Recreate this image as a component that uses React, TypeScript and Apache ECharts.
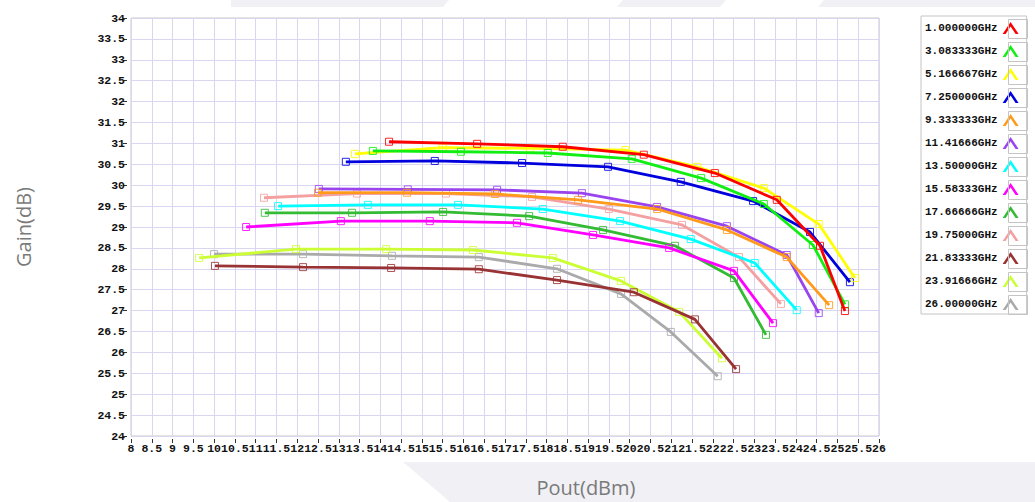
import React, { useEffect, useRef } from "react";
import * as echarts from "echarts";

const seriesNames = [
  "1.000000GHz", "3.083333GHz", "5.166667GHz", "7.250000GHz", "9.333333GHz",
  "11.41666GHz", "13.50000GHz", "15.58333GHz", "17.66666GHz", "19.75000GHz",
  "21.83333GHz", "23.91666GHz", "26.00000GHz",
];

const seriesColors = [
  "#ff0000", "#11ee11", "#ffff00", "#0000dd", "#ff9a1a",
  "#9944ee", "#00ffff", "#ff00ff", "#33bb33", "#f4a0a0",
  "#993333", "#ccff33", "#aaaaaa",
];

// [Pout(dBm), Gain(dB)]
const f1000 = [[14.21, 31.04], [16.33, 30.99], [18.39, 30.92], [20.34, 30.73], [22.05, 30.29], [23.54, 29.65], [24.58, 28.55], [25.18, 26.99]];
const f3083 = [[13.82, 30.82], [15.94, 30.8], [18.03, 30.77], [20.05, 30.63], [21.72, 30.17], [23.23, 29.55], [24.41, 28.57], [25.18, 27.15]];
const f5167 = [[13.39, 30.75], [15.5, 30.9], [17.6, 30.88], [19.9, 30.84], [21.62, 30.44], [23.23, 29.93], [24.55, 29.07], [25.42, 27.78]];
const f7250 = [[13.17, 30.56], [15.31, 30.58], [17.41, 30.53], [19.48, 30.44], [21.23, 30.08], [22.97, 29.62], [24.34, 28.88], [25.3, 27.68]];
const f9333 = [[12.5, 29.82], [14.64, 29.82], [16.76, 29.79], [18.76, 29.65], [20.66, 29.43], [22.34, 28.93], [23.78, 28.28], [24.8, 27.13]];
const f11417 = [[12.52, 29.91], [14.66, 29.9], [16.81, 29.89], [18.85, 29.81], [20.66, 29.48], [22.34, 29.02], [23.78, 28.33], [24.55, 26.94]];
const f13500 = [[11.54, 29.5], [13.7, 29.53], [15.87, 29.53], [17.91, 29.43], [19.77, 29.14], [21.47, 28.71], [23.01, 28.14], [24.02, 27.01]];
const f15583 = [[10.77, 29.0], [13.05, 29.14], [15.19, 29.14], [17.29, 29.1], [19.12, 28.81], [20.95, 28.5], [22.51, 27.95], [23.45, 26.7]];
const f17667 = [[11.22, 29.34], [13.32, 29.34], [15.51, 29.36], [17.58, 29.26], [19.36, 28.93], [21.09, 28.55], [22.51, 27.78], [23.28, 26.42]];
const f19750 = [[11.2, 29.7], [13.44, 29.8], [15.58, 29.8], [17.65, 29.72], [19.5, 29.43], [21.26, 29.05], [22.63, 28.28], [23.64, 27.16]];
const f21833 = [[10.02, 28.07], [12.14, 28.04], [14.26, 28.02], [16.37, 27.99], [18.25, 27.73], [20.1, 27.44], [21.57, 26.79], [22.56, 25.6]];
const f23917 = [[9.64, 28.26], [11.97, 28.47], [14.14, 28.47], [16.23, 28.45], [18.15, 28.26], [19.79, 27.71], [21.19, 26.97], [22.22, 25.86]];
const f26000 = [[10.0, 28.35], [12.14, 28.35], [14.28, 28.31], [16.37, 28.28], [18.25, 28.0], [19.79, 27.4], [20.99, 26.49], [22.12, 25.43]];

const seriesData = [f1000, f3083, f5167, f7250, f9333, f11417, f13500, f15583, f17667, f19750, f21833, f23917, f26000];

const xTicks = { min: 8, max: 26, step: 0.5 };
const yTicks = { min: 24, max: 34, step: 0.5 };

const monoFamily = "'Liberation Mono', 'DejaVu Sans Mono', monospace";

export default function App() {
  const ref = useRef<HTMLDivElement>(null);

  useEffect(() => {
    document.body.style.margin = "0";
    if (!ref.current) return;
    const chart = echarts.init(ref.current, undefined, { renderer: "svg" });

    const legendTop = 16;
    const legendPadTop = 6;
    const rowH = 23;
    const iconH = 12;

    const iconBoxes = seriesNames.map((_, i) => ({
      type: "rect",
      silent: true,
      shape: { x: 1008.5, y: legendTop + 1 + legendPadTop + iconH / 2 - 9.5 + i * rowH, width: 19, height: 19 },
      style: { fill: "none", stroke: "#c4c4c4", lineWidth: 1 },
      z: 10,
    }));

    const option: any = {
      animation: false,
      backgroundColor: "#ffffff",
      grid: {
        left: 131,
        right: 1035 - 879,
        top: 18,
        bottom: 502 - 436,
        show: true,
        borderColor: "#c8c8c8",
        borderWidth: 1,
        backgroundColor: "#ffffff",
      },
      xAxis: {
        type: "value",
        min: xTicks.min,
        max: xTicks.max,
        interval: xTicks.step,
        offset: 3,
        axisLine: { show: false },
        axisTick: { show: true, length: 4, lineStyle: { color: "#333" } },
        axisLabel: {
          margin: 3,
          color: "#111",
          fontFamily: monoFamily,
          fontWeight: "bold",
          fontSize: 11.5,
          hideOverlap: false,
        },
        splitLine: { show: true, lineStyle: { color: "#d9d6f2", width: 1 } },
      },
      yAxis: {
        type: "value",
        min: yTicks.min,
        max: yTicks.max,
        interval: yTicks.step,
        offset: 4,
        name: "Gain(dB)",
        nameLocation: "middle",
        nameGap: 94,
        nameRotate: 90,
        nameTextStyle: {
          fontFamily: "'Open Sans', 'Noto Sans', sans-serif",
          fontSize: 20,
          color: "#7a7a7a",
        },
        axisLine: { show: false },
        axisTick: { show: true, length: 4, lineStyle: { color: "#333" } },
        axisLabel: {
          margin: 2,
          color: "#111",
          fontFamily: monoFamily,
          fontWeight: "bold",
          fontSize: 11.5,
        },
        splitLine: { show: true, lineStyle: { color: "#d9d6f2", width: 1 } },
      },
      legend: {
        orient: "vertical",
        left: 921,
        top: legendTop,
        padding: [legendPadTop, 8, 4, 4],
        backgroundColor: "#ffffff",
        borderColor: "#c4c4c4",
        borderWidth: 1,
        borderRadius: 0,
        align: "right",
        itemWidth: 16,
        itemHeight: iconH,
        itemGap: rowH - iconH,
        icon: "path://M0,12 L8,0 L16,12 L13,12 L8,4.5 L3,12 Z",
        textStyle: {
          width: 80,
          fontFamily: monoFamily,
          fontWeight: "bold",
          fontSize: 11,
          color: "#111",
        },
        data: seriesNames.map((n, i) => ({
          name: n,
          itemStyle: { color: seriesColors[i], borderWidth: 0, opacity: 1 },
        })),
      },
      series: seriesNames.map((n, i) => ({
        name: n,
        type: "line",
        data: seriesData[i],
        z: 30 - i,
        symbol: "rect",
        symbolSize: 7,
        showSymbol: true,
        lineStyle: { color: seriesColors[i], width: 2.8 },
        itemStyle: {
          color: "rgba(255,255,255,0)",
          borderColor: seriesColors[i],
          borderWidth: 1,
          opacity: 0.85,
        },
        emphasis: { disabled: true },
      })),
      graphic: [
        {
          type: "polygon",
          silent: true,
          z: -10,
          shape: { points: [[231, 0], [449, 0], [443, 7], [231, 7]] },
          style: { fill: "#f0f0f5" },
        },
        {
          type: "polygon",
          silent: true,
          z: -10,
          shape: { points: [[623, 0], [726, 0], [720, 7], [617, 7]] },
          style: { fill: "#f0f0f5" },
        },
        {
          type: "polygon",
          silent: true,
          z: -10,
          shape: { points: [[824, 0], [1035, 0], [1035, 7], [818, 7]] },
          style: { fill: "#f0f0f5" },
        },
        {
          type: "polygon",
          silent: true,
          z: -10,
          shape: { points: [[403, 462], [1035, 462], [1035, 502], [450, 502]] },
          style: { fill: "#f0f0f5" },
        },
        {
          type: "text",
          x: 586,
          y: 487,
          silent: true,
          style: {
            text: "Pout(dBm)",
            font: "20px 'Open Sans', 'Noto Sans', sans-serif",
            fill: "#7a7a7a",
            align: "center",
            verticalAlign: "middle",
          },
        },
        ...iconBoxes,
      ],
    };

    chart.setOption(option);
    return () => chart.dispose();
  }, []);

  return <div ref={ref} style={{ width: 1035, height: 502 }} />;
}
